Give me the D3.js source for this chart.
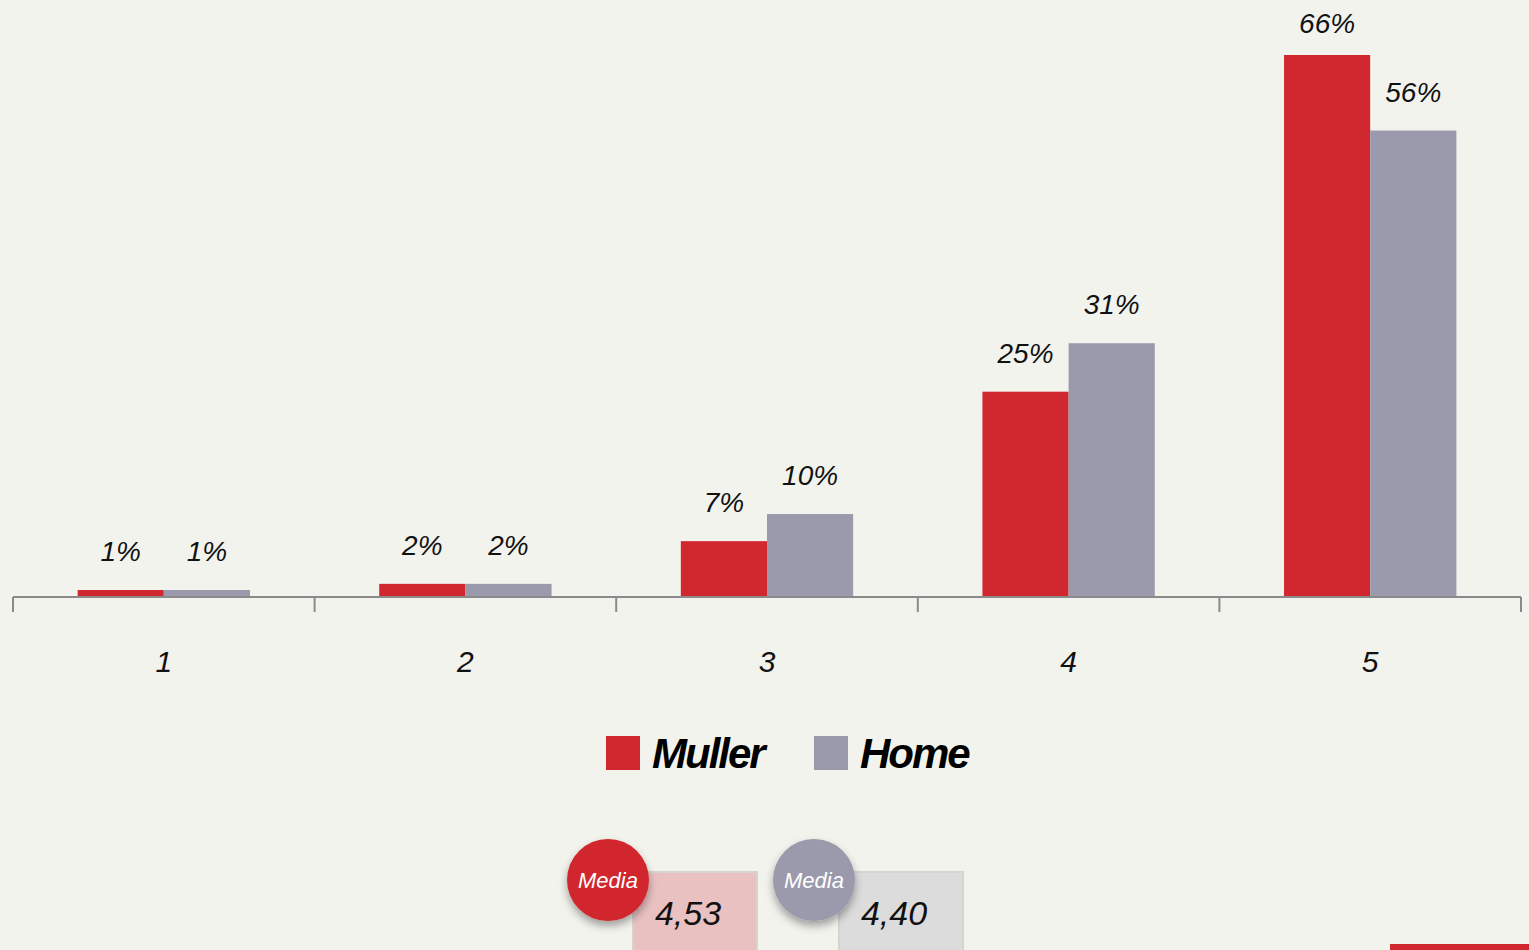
<!DOCTYPE html>
<html><head><meta charset="utf-8">
<script src="https://cdn.jsdelivr.net/npm/d3@7"></script>
<style>
html,body{margin:0;padding:0;background:#f3f3ee;}
svg{display:block;}
</style></head>
<body>
<svg id="c" width="1529" height="950"></svg>
<script>
const categories = ["1","2","3","4","5"];
const seriesNames = ["Muller","Home"];
const mullerValues = [0.85, 1.6, 6.8, 25.0, 66.0];
const homeValues = [0.85, 1.6, 10.1, 30.9, 56.8];
const mullerLabels = ["1%","2%","7%","25%","66%"];
const homeLabels = ["1%","2%","10%","31%","56%"];
const mediaLabels = ["4,53","4,40"];
const colors = ["#d1282f","#9a9aac"];
const boxColors = ["#e9c1c1","#dddcdc"];

const svg = d3.select("#c");
const font = "'Liberation Sans', 'DejaVu Sans', sans-serif";
const baseY = 597;
const x = d3.scaleBand().domain(categories).range([13,1521]).paddingInner(0).paddingOuter(0);
const xs = d3.scaleBand().domain(seriesNames).range([0,x.bandwidth()]).paddingInner(0).paddingOuter(0.75);
const y = d3.scaleLinear().domain([0,66]).range([baseY,55]);

const data = categories.map((c,i)=>({c, vals:[
  {s:"Muller", v:mullerValues[i], l:mullerLabels[i], col:colors[0]},
  {s:"Home", v:homeValues[i], l:homeLabels[i], col:colors[1]}]}));

const g = svg.append("g");
const grp = g.selectAll("g.grp").data(data).join("g").attr("transform",d=>`translate(${x(d.c)},0)`);
grp.selectAll("rect").data(d=>d.vals).join("rect")
  .attr("x",d=>xs(d.s)).attr("width",xs.bandwidth())
  .attr("y",d=>y(d.v)).attr("height",d=>baseY-y(d.v))
  .attr("fill",d=>d.col);
grp.selectAll("text").data(d=>d.vals).join("text")
  .attr("x",d=>xs(d.s)+xs.bandwidth()/2)
  .attr("y",d=>Math.max(y(d.v)-29,33))
  .attr("text-anchor","middle")
  .attr("font-family",font).attr("font-style","italic")
  .attr("font-size",28).attr("fill","#111")
  .text(d=>d.l);

// axis
const axis = d3.axisBottom(x).tickSize(0).tickPadding(0);
const ax = svg.append("g").attr("transform",`translate(0,${baseY})`).call(axis);
ax.select(".domain").remove();
ax.selectAll(".tick text").attr("y",54).attr("font-family",font).attr("font-style","italic")
  .attr("font-size",30).attr("fill","#111");
ax.append("line").attr("x1",x.range()[0]).attr("x2",x.range()[1]).attr("stroke","#8a8a8a").attr("stroke-width",2);
const bounds = categories.map(c=>x(c)).concat([x.range()[1]]);
ax.selectAll("line.tk").data(bounds).join("line").attr("class","tk")
  .attr("x1",d=>d).attr("x2",d=>d).attr("y1",0).attr("y2",15)
  .attr("stroke","#8a8a8a").attr("stroke-width",2);

// legend
const leg = svg.append("g");
const legX = [606, 814];
seriesNames.forEach((s,i)=>{
  leg.append("rect").attr("x",legX[i]).attr("y",736).attr("width",34).attr("height",34).attr("fill",colors[i]);
  leg.append("text").attr("x",legX[i]+46).attr("y",768).attr("font-family",font)
    .attr("font-style","italic").attr("font-weight","bold").attr("font-size",42)
    .attr("letter-spacing",-2).attr("fill","#000").text(s);
});

// media
const defs = svg.append("defs");
const f = defs.append("filter").attr("id","sh").attr("x","-50%").attr("y","-50%").attr("width","200%").attr("height","200%");
f.append("feDropShadow").attr("dx",0).attr("dy",5).attr("stdDeviation",4).attr("flood-color","#000").attr("flood-opacity",0.35);
const mX = [608, 814];
mediaLabels.forEach((m,i)=>{
  const cx = mX[i];
  svg.append("rect").attr("x",cx+25).attr("y",872).attr("width",124).attr("height",90)
    .attr("fill",boxColors[i]).attr("stroke","#d6d3d0").attr("stroke-width",2);
  svg.append("text").attr("x",cx+80).attr("y",925).attr("text-anchor","middle")
    .attr("font-family",font).attr("font-style","italic").attr("font-size",34).attr("fill","#111").text(m);
  svg.append("circle").attr("cx",cx).attr("cy",880).attr("r",41).attr("fill",colors[i]).attr("filter","url(#sh)");
  svg.append("text").attr("x",cx).attr("y",888).attr("text-anchor","middle")
    .attr("font-family",font).attr("font-style","italic").attr("font-size",22).attr("fill","#fff").text("Media");
});
svg.append("rect").attr("x",1390).attr("y",944).attr("width",139).attr("height",6).attr("fill",colors[0]);
</script>
</body></html>
